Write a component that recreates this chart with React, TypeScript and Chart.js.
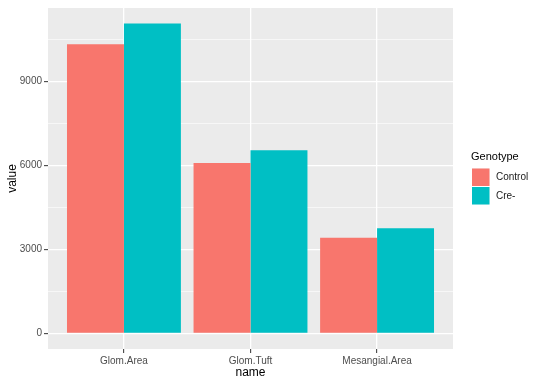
import React, { useEffect, useRef } from "react";
import { Chart, registerables } from "chart.js";

Chart.register(...registerables);

const categories = ["Glom.Area", "Glom.Tuft", "Mesangial.Area"];
const controlValues = [10330, 6090, 3420];
const creValues = [11070, 6540, 3760];
const seriesNames = ["Control", "Cre-"];
const seriesColors = ["#F8766D", "#00BFC4"];
const yTickValues = [0, 1500, 3000, 4500, 6000, 7500, 9000, 10500];
const yMajorStep = 3000;
const legendTitle = "Genotype";
const xTitle = "name";
const yTitle = "value";

const FONT = "'Liberation Sans', Arial, sans-serif";

const panelBg = {
  id: "panelBg",
  beforeDraw(chart: any) {
    const { ctx, chartArea } = chart;
    ctx.save();
    ctx.fillStyle = "#FFFFFF";
    ctx.fillRect(0, 0, chart.width, chart.height);
    ctx.fillStyle = "#EBEBEB";
    ctx.fillRect(chartArea.left, chartArea.top, chartArea.right - chartArea.left, chartArea.bottom - chartArea.top);
    ctx.restore();
  },
};

const ggLegend = {
  id: "ggLegend",
  afterDraw(chart: any) {
    const { ctx } = chart;
    const x0 = 472;
    const titleY = 157;
    ctx.save();
    ctx.fillStyle = "#000000";
    ctx.font = `11px ${FONT}`;
    ctx.textAlign = "left";
    ctx.textBaseline = "middle";
    ctx.fillText(legendTitle, x0 - 1, titleY);
    chart.data.datasets.forEach((ds: any, i: number) => {
      const y = 168.5 + i * 18.5;
      ctx.fillStyle = "#F2F2F2";
      ctx.fillRect(x0, y, 17.5, 17.5);
      ctx.fillStyle = ds.backgroundColor;
      ctx.fillRect(x0, y, 17.5, 17.5);
      ctx.fillStyle = "#1A1A1A";
      ctx.font = `10px ${FONT}`;
      ctx.fillText(ds.label, x0 + 24, y + 9);
    });
    ctx.restore();
  },
};

export default function App() {
  const ref = useRef<HTMLCanvasElement>(null);
  useEffect(() => {
    document.body.style.margin = "0";
    const canvas = ref.current!;
    const chart = new Chart(canvas, {
      type: "bar",
      data: {
        datasets: [
          {
            label: seriesNames[0],
            data: categories.map((_, i) => ({ x: i + 1, y: controlValues[i] })),
            backgroundColor: seriesColors[0],
            borderWidth: 0,
          },
          {
            label: seriesNames[1],
            data: categories.map((_, i) => ({ x: i + 1, y: creValues[i] })),
            backgroundColor: seriesColors[1],
            borderWidth: 0,
          },
        ],
      },
      options: {
        responsive: false,
        animation: false,
        events: [],
        categoryPercentage: 0.9,
        barPercentage: 1,
        layout: { padding: { top: 5, right: 87, left: 0, bottom: 0 } },
        plugins: { legend: { display: false }, tooltip: { enabled: false } },
        scales: {
          x: {
            type: "linear",
            min: 0.4,
            max: 3.6,
            offset: false,
            afterBuildTicks: (s: any) => {
              s.ticks = categories.map((_, i) => ({ value: i + 1 }));
            },
            afterFit: (s: any) => {
              s.height = 37;
            },
            border: { display: false },
            grid: {
              offset: false,
              color: "#FFFFFF",
              lineWidth: 1.3,
              drawTicks: true,
              tickLength: 4,
              tickColor: "#333333",
              tickWidth: 1,
            },
            ticks: {
              padding: 2,
              color: "#4D4D4D",
              font: { family: FONT, size: 10 },
              autoSkip: false,
              maxRotation: 0,
              callback: (v: any) => categories[Math.round(v) - 1] ?? "",
            },
            title: {
              display: true,
              text: xTitle,
              color: "#000000",
              font: { family: FONT, size: 12 },
              padding: { top: 0, bottom: 6 },
            },
          },
          y: {
            type: "linear",
            min: -553,
            max: 11620,
            afterBuildTicks: (s: any) => {
              s.ticks = yTickValues.map((v) => ({ value: v }));
            },
            afterFit: (s: any) => {
              s.width = 48;
            },
            border: { display: false },
            grid: {
              color: "#FFFFFF",
              lineWidth: (c: any) => (c.tick && c.tick.value % yMajorStep === 0 ? 1.3 : 0.6),
              drawTicks: true,
              tickLength: 4,
              tickColor: (c: any) => (c.tick && c.tick.value % yMajorStep === 0 ? "#333333" : "rgba(0,0,0,0)"),
              tickWidth: 1,
            },
            ticks: {
              padding: 2,
              color: "#4D4D4D",
              font: { family: FONT, size: 10 },
              autoSkip: false,
              callback: (v: any) => (v % yMajorStep === 0 ? String(v) : ""),
            },
            title: {
              display: true,
              text: yTitle,
              color: "#000000",
              font: { family: FONT, size: 12 },
              padding: { top: 5, bottom: 0 },
            },
          },
        },
      } as any,
      plugins: [panelBg, ggLegend],
    });
    return () => chart.destroy();
  }, []);
  return (
    <div style={{ width: 540, height: 386 }}>
      <canvas ref={ref} width={540} height={386} style={{ display: "block" }} />
    </div>
  );
}
